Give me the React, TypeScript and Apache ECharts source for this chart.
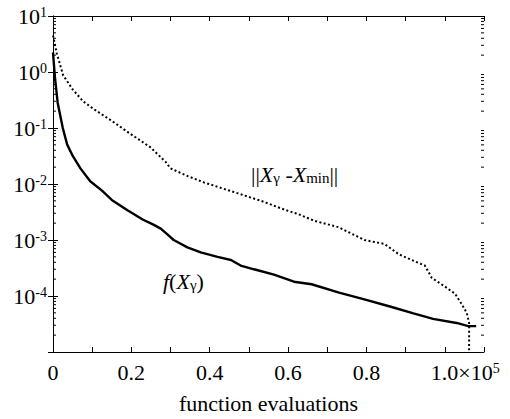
import React, { useEffect, useRef } from "react";
import * as echarts from "echarts";

// f(X_gamma): [function evaluations (×1e5), value]
const fX: number[] = [0, 0.005, 0.012, 0.025, 0.036, 0.05, 0.07, 0.095, 0.125, 0.15, 0.19, 0.23, 0.255, 0.275, 0.292, 0.308, 0.343, 0.377, 0.42, 0.454, 0.479, 0.513, 0.564, 0.615, 0.66, 0.73, 0.79, 0.86, 0.92, 0.97, 1.03, 1.06, 1.08];
const fY: number[] = [2.24, 0.79, 0.28, 0.1, 0.051, 0.032, 0.019, 0.0112, 0.0076, 0.0052, 0.0034, 0.0023, 0.0019, 0.0016, 0.00126, 0.001, 0.00074, 0.0006, 0.0005, 0.00044, 0.00035, 0.0003, 0.00024, 0.00018, 0.000162, 0.000115, 0.000089, 0.000065, 0.000049, 0.000039, 0.000033, 0.000029, 0.000029];

// ||X_gamma - X_min||
const dX: number[] = [0, 0.01, 0.026, 0.051, 0.077, 0.103, 0.146, 0.197, 0.249, 0.287, 0.3, 0.344, 0.385, 0.472, 0.531, 0.59, 0.626, 0.667, 0.728, 0.795, 0.846, 0.882, 0.915, 0.949, 0.967, 1.0, 1.026, 1.044, 1.056, 1.062, 1.062];
const dY: number[] = [4.5, 2.1, 0.87, 0.48, 0.3, 0.22, 0.14, 0.079, 0.045, 0.025, 0.019, 0.0138, 0.0107, 0.0068, 0.005, 0.0035, 0.0029, 0.0022, 0.0017, 0.001, 0.00085, 0.00056, 0.00044, 0.00035, 0.00021, 0.000148, 0.00011, 0.00007, 0.00005, 0.000033, 0.0000001];

const xMin = 0;
const xMax = 1.1;
const xStep = 0.1;
const yMin = 1e-5;
const yMax = 10;
const decades: number[] = [-5, -4, -3, -2, -1, 0];
const minorMultipliers: number[] = [2, 3, 4, 5, 6, 7, 8, 9];

const FONT = "Liberation Serif";

export default function App() {
  const ref = useRef<HTMLDivElement>(null);
  useEffect(() => {
    document.body.style.margin = "0";
    if (!ref.current) return;
    const chart = echarts.init(ref.current, null, { renderer: "svg" });

    const minorVals: number[][] = [];
    decades.forEach((d) => minorMultipliers.forEach((m) => minorVals.push([xMin, m * Math.pow(10, d)])));

    const xLabel = (v: number) => {
      const k = Math.round(v * 10);
      if (k % 2 !== 0) return "";
      if (k === 0) return "{n|0}";
      if (k === 10) return "{sp|}{n|1.0×10}{e|5}";
      return "{n|" + (k / 10).toFixed(1) + "}";
    };

    const yLabel = (v: number) => {
      const e = Math.round(Math.log10(v));
      if (e === -5) return "";
      return "{b|10}{e|" + e + "}";
    };

    const common = {
      axisLine: { show: true, lineStyle: { color: "#000", width: 1 } },
      splitLine: { show: false },
    };

    const tick = { show: true, inside: true, length: 5, lineStyle: { color: "#000" } };

    chart.setOption({
      animation: false,
      backgroundColor: "#fff",
      textStyle: { fontFamily: FONT },
      grid: { left: 53, top: 16, right: 26, bottom: 63 },
      xAxis: [
        {
          ...common,
          type: "value",
          min: xMin,
          max: xMax,
          interval: xStep,
          position: "bottom",
          axisTick: tick,
          axisLabel: {
            formatter: xLabel,
            color: "#000",
            fontFamily: FONT,
            fontSize: 22,
            margin: 9,
            showMaxLabel: true,
            rich: {
              n: { fontFamily: FONT, fontSize: 22, color: "#000" },
              sp: { width: 41 },
              e: { fontFamily: FONT, fontSize: 14, color: "#000", verticalAlign: "top", lineHeight: 12 },
            },
          },
          name: "function evaluations",
          nameLocation: "middle",
          nameGap: 40,
          nameTextStyle: { fontFamily: FONT, fontSize: 22, color: "#000" },
        },
        {
          ...common,
          type: "value",
          min: xMin,
          max: xMax,
          interval: xStep,
          position: "top",
          axisTick: tick,
          axisLabel: { show: false },
        },
      ],
      yAxis: [
        {
          ...common,
          type: "log",
          logBase: 10,
          min: yMin,
          max: yMax,
          position: "left",
          axisTick: tick,
          axisLabel: {
            formatter: yLabel,
            margin: 6,
            fontFamily: FONT,
            rich: {
              b: { fontFamily: FONT, fontSize: 22, color: "#000", lineHeight: 22 },
              e: { fontFamily: FONT, fontSize: 14, color: "#000", verticalAlign: "top", lineHeight: 10 },
            },
          },
        },
        {
          ...common,
          type: "log",
          logBase: 10,
          min: yMin,
          max: yMax,
          position: "right",
          axisTick: tick,
          axisLabel: { show: false },
        },
      ],
      graphic: [
        {
          type: "text",
          left: 251,
          top: 163,
          style: {
            text: "{n|||}{i|X}{s|γ}{n| -}{i|X}{s|min}{n|||}",
            rich: {
              n: { fontFamily: FONT, fontSize: 22, fill: "#000" },
              i: { fontFamily: FONT, fontSize: 22, fontStyle: "italic", fill: "#000" },
              s: { fontFamily: FONT, fontSize: 15, fill: "#000", verticalAlign: "bottom", lineHeight: 14 },
            },
          },
        },
        {
          type: "text",
          left: 163,
          top: 270,
          style: {
            text: "{i|f}{n|(}{i|X}{s|γ}{n|)}",
            rich: {
              n: { fontFamily: FONT, fontSize: 22, fill: "#000" },
              i: { fontFamily: FONT, fontSize: 22, fontStyle: "italic", fill: "#000" },
              s: { fontFamily: FONT, fontSize: 15, fill: "#000", verticalAlign: "bottom", lineHeight: 14 },
            },
          },
        },
      ],
      series: [
        {
          type: "line",
          data: dX.map((x, i) => [x, dY[i]]),
          showSymbol: false,
          clip: true,
          lineStyle: { color: "#000", width: 2, type: [2, 2.4], cap: "butt" },
          z: 3,
        },
        {
          type: "line",
          data: fX.map((x, i) => [x, fY[i]]),
          showSymbol: false,
          clip: true,
          lineStyle: { color: "#000", width: 2.4 },
          z: 4,
        },
        {
          type: "custom",
          data: minorVals,
          silent: true,
          clip: false,
          renderItem: (_params: any, api: any) => {
            const v = api.value(1);
            const pl = api.coord([xMin, v]);
            const pr = api.coord([xMax, v]);
            const style = { stroke: "#000", lineWidth: 1 };
            return {
              type: "group",
              children: [
                { type: "line", shape: { x1: pl[0], y1: pl[1], x2: pl[0] + 3, y2: pl[1] }, style },
                { type: "line", shape: { x1: pr[0], y1: pr[1], x2: pr[0] - 3, y2: pr[1] }, style },
              ],
            };
          },
        },
      ],
    });
    return () => chart.dispose();
  }, []);
  return <div ref={ref} style={{ width: 510, height: 419 }} />;
}
